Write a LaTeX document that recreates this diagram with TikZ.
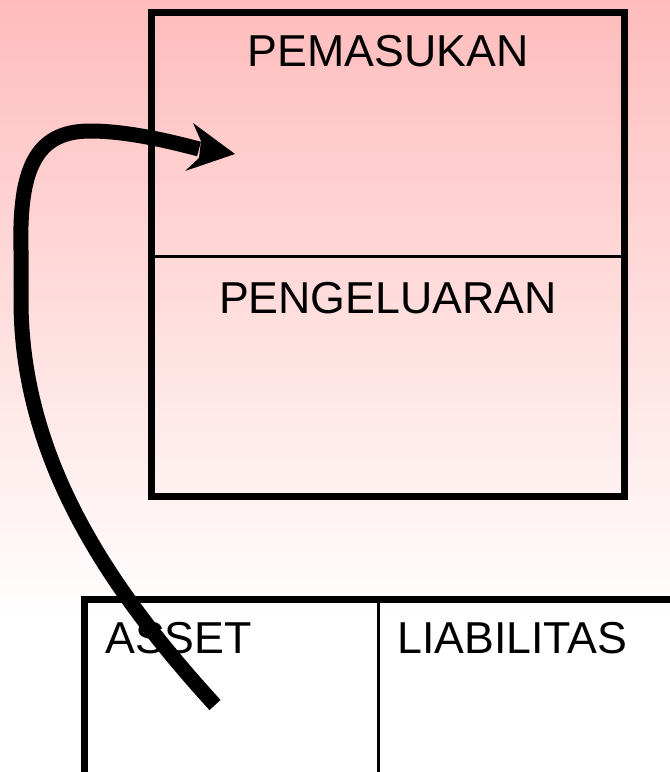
\documentclass[tikz,border=0pt]{standalone}
\usepackage{fontspec}
\setmainfont{Liberation Sans}
\definecolor{pinktop}{RGB}{255,188,188}
\begin{document}
\begin{tikzpicture}[x=1pt,y=-1pt,
  boxline/.style={line width=7pt},
  divline/.style={line width=3pt},
  lbl/.style={inner sep=0pt, font=\fontsize{44.7}{50}\selectfont},
  flow/.style={line width=15pt}]
\useasboundingbox (0,0) rectangle (670,772);
% background
\fill[white] (0,0) rectangle (670,772);
\fill[top color=pinktop, bottom color=white, draw=none] (0,0) rectangle (670,620);
% top box
\draw[boxline] (151.5,12.5) rectangle (624.5,496);
\draw[divline] (151.5,256) -- (624.5,256);
\node[lbl, anchor=base] (pemasukan) at (388,66) {PEMASUKAN};
\node[lbl, anchor=base] (pengeluaran) at (388,313) {PENGELUARAN};
% bottom box
\draw[boxline] (84.5,599) rectangle (690,775);
\draw[divline] (378.5,599) -- (378.5,775);
\node[lbl, anchor=base west] (asset) at (105,653) {ASSET};
\node[lbl, anchor=base west] (liab) at (397,653) {LIABILITAS};
% arrow
\coordinate (src) at (215,705);
\coordinate (shaftend) at (199,149);
\coordinate (tip) at (235,154);
\draw[flow] (src) .. controls (110,590) and (21,460) .. (21,300)
  -- (21,250) .. controls (19,170) and (35,131) .. (90,131)
  .. controls (125,131) and (165,140) .. (shaftend);
\fill (tip) -- (193,123) -- (201,141) -- (199,158) -- (185,171) -- cycle;
\end{tikzpicture}
\end{document}
